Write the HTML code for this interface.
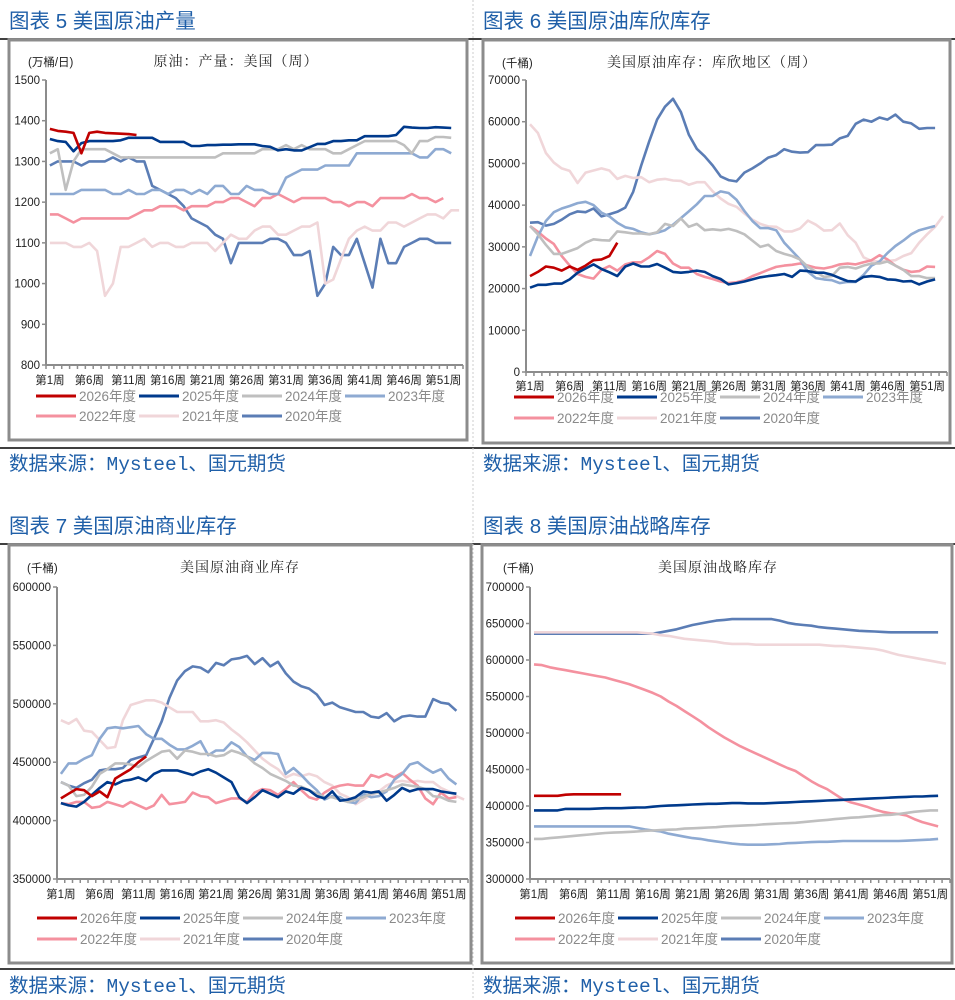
<!DOCTYPE html>
<html><head><meta charset="utf-8"><style>
html,body{margin:0;padding:0;background:#fff;}
svg{display:block;}
.ttl{font-family:"Liberation Sans","Noto Sans CJK SC",sans-serif;font-size:20.5px;fill:#1f5fa8;}
.src{font-family:"Liberation Mono","Noto Sans CJK SC",monospace;font-size:19.5px;fill:#1f5fa8;}
.ct{font-family:"Liberation Serif","Noto Serif CJK SC",serif;font-size:14px;fill:#222;letter-spacing:1px;}
.ax{font-family:"Liberation Sans","Noto Sans CJK SC",sans-serif;font-size:11.5px;fill:#222;}
.lg{font-family:"Liberation Sans","Noto Sans CJK SC",sans-serif;font-size:13.5px;fill:#8a8a8a;}
</style></head><body>
<svg id="page" width="955" height="1000" viewBox="0 0 955 1000" xmlns="http://www.w3.org/2000/svg">
<line x1="0" y1="39" x2="955" y2="39" stroke="#000" stroke-width="1.5"/>
<line x1="0" y1="448" x2="955" y2="448" stroke="#000" stroke-width="1.5"/>
<line x1="0" y1="544" x2="955" y2="544" stroke="#000" stroke-width="1.5"/>
<line x1="0" y1="969" x2="955" y2="969" stroke="#000" stroke-width="1.5"/>
<line x1="473" y1="0" x2="473" y2="1000" stroke="#ccc" stroke-width="1" stroke-dasharray="2,2"/>
<text class="ttl" x="9" y="28">图表 5 美国原油产量</text>
<text class="ttl" x="483" y="28">图表 6 美国原油库欣库存</text>
<text class="ttl" x="9" y="533">图表 7 美国原油商业库存</text>
<text class="ttl" x="483" y="533">图表 8 美国原油战略库存</text>
<text class="src" x="9" y="470">数据来源：Mysteel、国元期货</text>
<text class="src" x="483" y="470">数据来源：Mysteel、国元期货</text>
<text class="src" x="9" y="992">数据来源：Mysteel、国元期货</text>
<text class="src" x="483" y="992">数据来源：Mysteel、国元期货</text>
</svg>
<script>
// ---------- shared ----------
const seriesNames = ["2026年度","2025年度","2024年度","2023年度","2022年度","2021年度","2020年度"];
const seriesColors = ["#c00000","#003a8c","#bfbfbf","#8eaad2","#f4919f","#f0d6d9","#5b7db5"];
const weekCount = 53;
const weekLabels = ["第1周","第6周","第11周","第16周","第21周","第26周","第31周","第36周","第41周","第46周","第51周"];
const weekLabelIdx = [1,6,11,16,21,26,31,36,41,46,51];

// ---------- chart 5: production (万桶/日) ----------
const prodTicks = [800,900,1000,1100,1200,1300,1400,1500];
const prod2026 = [1380,1375,1373,1370,1320,1370,1373,1370,1369,1368,1367,1365];
const prod2025 = [1355,1350,1348,1325,1345,1350,1350,1350,1350,1352,1358,1358,1358,1358,1348,1348,1348,1348,1338,1338,1340,1340,1341,1341,1342,1342,1342,1338,1336,1327,1330,1327,1327,1335,1343,1343,1350,1350,1352,1352,1362,1362,1362,1362,1365,1385,1383,1382,1382,1384,1383,1382];
const prod2024 = [1320,1330,1230,1300,1330,1330,1330,1330,1320,1310,1310,1310,1310,1310,1310,1310,1310,1310,1310,1310,1310,1310,1320,1320,1320,1320,1320,1330,1330,1330,1340,1330,1340,1330,1330,1330,1320,1320,1330,1340,1350,1350,1350,1350,1350,1340,1320,1350,1350,1360,1360,1358];
const prod2023 = [1220,1220,1220,1220,1230,1230,1230,1230,1220,1220,1230,1220,1220,1230,1230,1220,1230,1230,1220,1230,1220,1240,1240,1220,1220,1240,1230,1230,1220,1220,1260,1270,1280,1280,1280,1290,1290,1290,1290,1320,1320,1320,1320,1320,1320,1320,1320,1310,1310,1330,1330,1320];
const prod2022 = [1170,1170,1160,1150,1160,1160,1160,1160,1160,1160,1160,1170,1180,1180,1190,1190,1190,1180,1190,1190,1190,1200,1200,1210,1210,1200,1190,1210,1210,1220,1210,1200,1210,1210,1210,1210,1200,1200,1190,1200,1200,1190,1210,1210,1210,1210,1220,1210,1210,1200,1210];
const prod2021 = [1100,1100,1100,1090,1090,1100,1080,970,1000,1090,1090,1100,1110,1090,1100,1100,1090,1090,1100,1100,1100,1080,1100,1120,1110,1110,1130,1140,1140,1120,1120,1130,1140,1140,1150,1000,1010,1060,1110,1130,1140,1130,1130,1150,1150,1140,1150,1160,1170,1170,1160,1180,1180];
const prod2020 = [1290,1300,1300,1300,1290,1300,1300,1300,1310,1300,1310,1300,1300,1240,1230,1220,1210,1190,1160,1150,1140,1120,1110,1050,1100,1100,1100,1100,1110,1110,1100,1070,1070,1080,970,1000,1090,1070,1070,1110,1050,990,1110,1050,1050,1090,1100,1110,1110,1100,1100,1100];

// ---------- chart 6: Cushing (千桶) ----------
const cushTicks = [0,10000,20000,30000,40000,50000,60000,70000];
const cush2026 = [23000,24000,25300,25000,24300,25300,24500,25500,26800,27000,27800,31000];
const cush2025 = [20200,20900,20900,21200,21200,22200,23800,24800,25800,24700,23900,23000,25300,26000,25300,25300,25900,25000,24000,23800,24000,24300,24000,23000,22300,21000,21300,21700,22200,22700,23000,23200,23500,22800,24300,24200,23800,23800,23300,22500,21800,21700,22800,23000,22800,22200,22100,21700,21800,21000,21700,22200];
const cush2024 = [35000,33000,30500,28300,28300,29000,29700,31000,31800,31600,31500,33700,33500,33200,33200,33000,33500,35500,35000,36800,34800,35500,34000,34200,34000,34300,33800,33000,31500,30000,30500,29000,28300,27800,27000,25200,24000,22800,23000,25000,25200,24800,25500,26000,26000,26500,25500,24500,23000,23000,22500,22500];
const cush2023 = [27800,32500,36200,38300,39200,39800,40500,40800,40000,38200,37300,35800,34700,34300,33500,33000,33400,34000,35300,36900,38500,40200,42200,42200,43300,42900,41300,38600,36200,34500,34500,34000,31000,29000,27000,24000,22500,22200,22000,21300,21600,21600,23300,25500,26500,28500,30200,31500,33000,34000,34500,35000];
const cush2022 = [35000,33600,32000,30700,27800,25500,23500,22800,22400,24500,25400,24300,25800,26300,26300,27500,29000,28300,26000,25000,25000,23500,22800,22300,21700,21300,21500,22000,23000,23700,24500,25200,25500,25700,26000,25500,25000,24800,25200,25800,26000,25800,26300,26800,28000,27000,25500,24500,24000,24200,25300,25200];
const cush2021 = [59400,57300,52500,50200,48800,48200,45300,47800,48300,48800,48300,46300,47000,46500,46700,45500,46100,46300,45900,45800,44900,45500,45500,43300,41600,40300,39600,38000,36500,35500,34900,34800,33700,33700,34400,36300,35300,33900,34000,35600,32800,31000,27500,26600,26500,26600,26800,27800,28500,31000,33000,34800,37400];
const cush2020 = [35800,35900,35100,35500,36500,37800,38500,38300,39200,37300,37800,38400,39400,43200,49500,55200,60500,63600,65500,62300,56900,53500,51700,49500,46900,46000,45700,47800,48800,50000,51400,52000,53400,52800,52600,52700,54400,54400,54500,56000,56600,59500,60500,60000,61000,60500,61700,60000,59600,58300,58500,58500];

// ---------- chart 7: commercial (千桶) ----------
const commTicks = [350000,400000,450000,500000,550000,600000];
const comm2026 = [419000,423000,427000,426000,421000,425000,420000,436000,440000,444000,450000,455000];
const comm2025 = [415000,413000,412000,416000,422000,428000,433000,431000,434000,435000,437000,434000,440000,443000,443000,443000,441000,439000,442000,444000,441000,437000,433000,420000,415000,420000,426000,423000,420000,425000,423000,428000,426000,421000,419000,425000,417000,418000,420000,425000,424000,425000,417000,422000,428000,425000,427000,427000,427000,425000,424000,423000];
const comm2024 = [433000,430000,421000,422000,429000,440000,444000,449000,449000,448000,446000,451000,455000,459000,460000,453000,460000,459000,457000,457000,455000,456000,460000,458000,455000,449000,445000,440000,437000,434000,430000,429000,426000,423000,420000,420000,418000,416000,418000,420000,423000,424000,426000,428000,431000,430000,429000,427000,421000,420000,417000,416000];
const comm2023 = [440000,449000,449000,453000,456000,470000,479000,480000,479000,480000,481000,474000,470000,470000,465000,461000,461000,464000,468000,456000,460000,460000,467000,463000,455000,452000,458000,458000,457000,440000,445000,439000,432000,426000,418000,421000,420000,416000,415000,423000,420000,421000,425000,435000,440000,448000,450000,445000,441000,444000,436000,431000];
const comm2022 = [415000,414000,416000,416000,411000,412000,416000,414000,412000,416000,413000,410000,413000,422000,414000,415000,416000,424000,421000,420000,415000,417000,419000,419000,416000,424000,427000,426000,422000,427000,433000,426000,420000,418000,424000,428000,430000,431000,430000,430000,439000,437000,440000,437000,441000,435000,430000,419000,414000,424000,419000,420000];
const comm2021 = [486000,483000,487000,477000,476000,469000,462000,463000,486000,499000,501000,503000,503000,501000,497000,493000,493000,493000,485000,485000,486000,484000,478000,473000,467000,460000,453000,448000,444000,437000,440000,438000,440000,438000,433000,430000,423000,420000,414000,418000,422000,425000,430000,433000,434000,433000,434000,433000,433000,428000,425000,421000,418000];
const comm2020 = [433000,430000,428000,432000,435000,443000,444000,444000,445000,452000,454000,456000,470000,485000,505000,520000,528000,532000,531000,527000,535000,533000,538000,539000,541000,534000,539000,532000,536000,526000,519000,515000,513000,508000,499000,501000,497000,495000,493000,493000,489000,488000,492000,485000,489000,490000,489000,489000,504000,501000,500000,494000];

// ---------- chart 8: SPR (千桶) ----------
const sprTicks = [300000,350000,400000,450000,500000,550000,600000,650000,700000];
const spr2026 = [414000,414000,414000,414000,415500,416000,416000,416000,416000,416000,416000,416000];
const spr2025 = [394000,394000,394000,394000,396000,396000,396000,396000,396500,397000,397000,397000,397500,398000,398000,399000,400000,400500,401000,401500,402000,402500,403000,403000,403500,404000,404000,403500,403500,403500,404000,404500,405000,405500,406000,406500,407000,407500,408000,408500,409000,409500,410000,410500,411000,411500,412000,412500,413000,413000,413500,414000];
const spr2024 = [355000,355000,356000,357000,358000,359000,360000,361000,362000,363000,363500,364000,364500,365000,366000,366500,367000,367500,368000,369000,369500,370000,370500,371000,372000,372500,373000,373500,374000,375000,375500,376000,376500,377000,378000,379000,380000,381000,382000,383000,384000,384500,385500,386500,387500,388000,389000,390500,392000,393000,394000,394000];
const spr2023 = [372000,372000,372000,372000,372000,372000,372000,372000,372000,372000,372000,372000,372000,370000,368000,366500,365000,362000,360000,358000,356000,355000,353000,351500,350000,348500,347500,347000,347000,347000,347500,348000,349000,349500,350000,350500,351000,351000,351500,352000,352000,352000,352000,352000,352000,352000,352000,352500,353000,353500,354000,355000];
const spr2022 = [594000,593000,590000,588000,586000,584000,582000,580000,578000,576000,573000,570000,567000,563000,559000,555000,550000,543000,537000,530000,523000,516000,508000,501000,494000,488000,482000,477000,472000,467000,462000,457000,452000,448000,441000,434000,428000,423000,416000,409000,405000,402000,399000,395000,392000,390000,389000,387000,382000,378000,375000,372000];
const spr2021 = [638000,638000,638000,638000,638000,638000,638000,638000,638000,638000,638000,638000,638000,638000,637000,636000,634000,633000,631000,629000,628000,627000,626000,625000,623000,622000,622000,622000,621000,621000,621000,621000,621000,621000,621000,621000,621000,620000,619000,619000,618000,617000,616000,615000,613000,610000,607000,605000,603000,601000,599000,597000,595000];
const spr2020 = [636000,636000,636000,636000,636000,636000,636000,636000,636000,636000,636000,636000,636000,636000,636000,636000,638000,640000,642000,645000,648000,650000,652000,654000,655000,656000,656000,656000,656000,656000,656000,654000,651000,649000,648000,647000,645000,644000,643000,642000,641000,640000,639500,639000,638500,638000,638000,638000,638000,638000,638000,638000];

const NS = "http://www.w3.org/2000/svg";
const page = document.getElementById("page");
function mk(tag, attrs, parent){
  const e = document.createElementNS(NS, tag);
  for (const k in attrs) e.setAttribute(k, attrs[k]);
  (parent||page).appendChild(e);
  return e;
}

function drawChart(cfg){
  const g = mk("g", {});
  
  
  const fr = mk("rect", {x:cfg.fx, y:cfg.fy, width:cfg.fw, height:cfg.fh, fill:"none", stroke:"#8c8c8c", "stroke-width":3}, g);
  
  
  const ymin = cfg.ticks[0], ymax = cfg.ticks[cfg.ticks.length-1];
  const yS = v => cfg.yBot - (v - ymin) / (ymax - ymin) * (cfg.yBot - cfg.yTop);
  const step = (cfg.x1 - cfg.x0) / weekCount;
  const xS = i => cfg.x0 + (i + 0.5) * step;
  const t = mk("text", {x:cfg.tx, y:cfg.ty, "text-anchor":"middle", class:"ct"}, g);
  t.textContent = cfg.title;
  
  
  const u = mk("text", {x:cfg.ux, y:cfg.ty, class:"ax"}, g);
  u.textContent = cfg.unit;
  
  
  const ya = mk("line", {x1:cfg.x0, y1:cfg.yTop, x2:cfg.x0, y2:cfg.yBot, stroke:"#8c8c8c", "stroke-width":2}, g);
  
  
  cfg.ticks.forEach(v => {
    const y = yS(v);
    const tk = mk("line", {x1:cfg.x0-4, y1:y, x2:cfg.x0, y2:y, stroke:"#8c8c8c", "stroke-width":1.5}, g);
    
    
    const lb = mk("text", {x:cfg.x0-6, y:y+4, "text-anchor":"end", class:"ax"}, g);
    lb.textContent = String(v);
    
    
  });
  const xa = mk("line", {x1:cfg.x0, y1:cfg.yBot, x2:cfg.x1, y2:cfg.yBot, stroke:"#8c8c8c", "stroke-width":2}, g);
  
  
  for (let i = 0; i <= weekCount; i++){
    const x = cfg.x0 + i * step;
    const tk = mk("line", {x1:x, y1:cfg.yBot, x2:x, y2:cfg.yBot+4, stroke:"#8c8c8c", "stroke-width":1.5}, g);
    
    
  }
  weekLabels.forEach((s, k) => {
    const lb = mk("text", {x:xS(weekLabelIdx[k]-1), y:cfg.wy, "text-anchor":"middle", class:"ax"}, g);
    lb.textContent = s;
    
    
  });
  for (let s = cfg.series.length - 1; s >= 0; s--){
    const d = cfg.series[s].map((v, i) => (i ? "L" : "M") + xS(i).toFixed(1) + " " + yS(v).toFixed(1)).join(" ");
    const p = mk("path", {d:d, fill:"none", stroke:seriesColors[s], "stroke-width":2.6, "stroke-linejoin":"round"}, g);
    
    
  }
  seriesNames.forEach((n, s) => {
    const row = s < 4 ? 0 : 1, col = s < 4 ? s : s - 4;
    const lx = cfg.lx + col * 103, ly = cfg.ly[row];
    const lg = mk("g", {}, g);
    
    
    mk("line", {x1:lx, y1:ly, x2:lx+40, y2:ly, stroke:seriesColors[s], "stroke-width":3}, lg);
    const tx = mk("text", {x:lx+43, y:ly+5, class:"lg"}, lg);
    tx.textContent = n;
  });
}

drawChart({id:"chart-us-crude-production", fx:9, fy:40, fw:458, fh:400, x0:46, x1:463, yTop:80, yBot:365,
  ticks:prodTicks, title:"原油：产量：美国（周）", tx:236, ty:66, unit:"(万桶/日)", ux:28, wy:384, lx:36, ly:[396,416],
  series:[prod2026,prod2025,prod2024,prod2023,prod2022,prod2021,prod2020]});
drawChart({id:"chart-cushing-inventory", fx:483, fy:40, fw:467, fh:403, x0:526, x1:947, yTop:80, yBot:372,
  ticks:cushTicks, title:"美国原油库存：库欣地区（周）", tx:712, ty:67, unit:"(千桶)", ux:502, wy:390, lx:514, ly:[397,418],
  series:[cush2026,cush2025,cush2024,cush2023,cush2022,cush2021,cush2020]});
drawChart({id:"chart-commercial-inventory", fx:9, fy:545, fw:462, fh:418, x0:57, x1:468, yTop:587, yBot:879,
  ticks:commTicks, title:"美国原油商业库存", tx:240, ty:572, unit:"(千桶)", ux:27, wy:898, lx:37, ly:[918,939],
  series:[comm2026,comm2025,comm2024,comm2023,comm2022,comm2021,comm2020]});
drawChart({id:"chart-strategic-reserve", fx:482, fy:545, fw:470, fh:418, x0:530, x1:950, yTop:587, yBot:879,
  ticks:sprTicks, title:"美国原油战略库存", tx:718, ty:572, unit:"(千桶)", ux:503, wy:898, lx:515, ly:[918,939],
  series:[spr2026,spr2025,spr2024,spr2023,spr2022,spr2021,spr2020]});
</script>
</body></html>
